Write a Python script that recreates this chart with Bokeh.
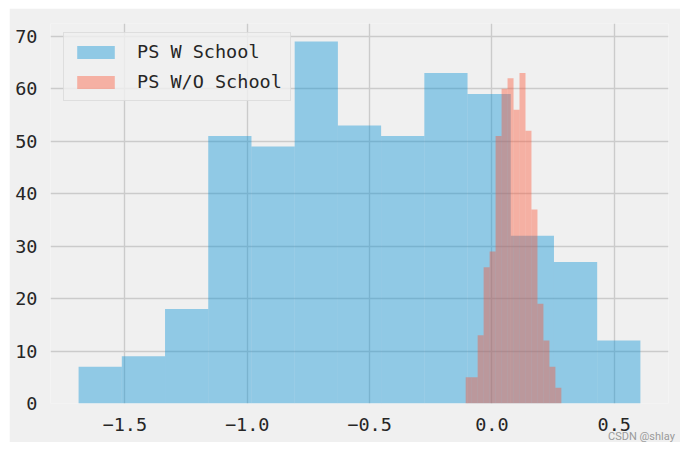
import numpy as np
from bokeh.plotting import figure
from bokeh.models import Range1d, CustomJSTickFormatter, Legend, LegendItem, Spacer, Div
from bokeh.layouts import column, row
from bokeh.embed import file_html
from bokeh.resources import INLINE

# ---- data ----
series_names = ["PS W School", "PS W/O School"]
ps_w_counts = [7, 9, 18, 51, 49, 69, 53, 51, 63, 59, 32, 27, 12]
ps_w_min, ps_w_max = -1.689, 0.607
ps_wo_counts = [5, 5, 13, 26, 29, 51, 60, 62, 56, 63, 52, 37, 19, 12, 7, 3]
ps_wo_min, ps_wo_max = -0.107, 0.284
x_ticks = [-1.5, -1.0, -0.5, 0.0, 0.5]
y_ticks = [0, 10, 20, 30, 40, 50, 60, 70]
watermark = "CSDN @shlay"

w_edges = np.linspace(ps_w_min, ps_w_max, len(ps_w_counts) + 1)
wo_edges = np.linspace(ps_wo_min, ps_wo_max, len(ps_wo_counts) + 1)

span = ps_w_max - ps_w_min
x0, x1 = ps_w_min - 0.05 * span, ps_w_max + 0.05 * span
ytop = max(max(ps_w_counts), max(ps_wo_counts)) * 1.05

BG = "#f0f0f0"
FONT = "DejaVu Sans Mono"

p = figure(width=671, height=434, output_backend="svg", toolbar_location=None,
           x_range=Range1d(x0, x1), y_range=Range1d(0, ytop),
           background_fill_color=BG, border_fill_color=BG, outline_line_color=None,
           min_border_left=41, min_border_right=12, min_border_top=15, min_border_bottom=39)

r1 = p.quad(left=w_edges[:-1], right=w_edges[1:], top=ps_w_counts, bottom=0,
            fill_color="#008fd5", fill_alpha=0.4, line_color=None)
r2 = p.quad(left=wo_edges[:-1], right=wo_edges[1:], top=ps_wo_counts, bottom=0,
            fill_color="#fc4f30", fill_alpha=0.4, line_color=None)

p.xaxis.ticker = x_ticks
p.yaxis.ticker = y_ticks
p.xaxis.formatter = CustomJSTickFormatter(
    code="return (tick < 0 ? '\u2212' : '') + Math.abs(tick).toFixed(1);")

for ax in (p.xaxis[0], p.yaxis[0]):
    ax.axis_line_color = None
    ax.major_tick_line_color = None
    ax.minor_tick_line_color = None
    ax.major_label_text_font = FONT
    ax.major_label_text_font_size = "18.5px"
    ax.major_label_text_color = "#262626"
p.xaxis.major_label_standoff = 8
p.yaxis.major_label_standoff = 7

for g in (p.xgrid[0], p.ygrid[0]):
    g.grid_line_color = "#cbcbcb"
    g.grid_line_width = 1.4

legend = Legend(items=[LegendItem(label=series_names[0], renderers=[r1]),
                       LegendItem(label=series_names[1], renderers=[r2])],
                location=(13, 302))
legend.glyph_width = 47
legend.glyph_height = 16
legend.label_standoff = 18
legend.padding = 8
legend.spacing = 9
legend.margin = 0
legend.label_text_font = FONT
legend.label_text_font_size = "18.5px"
legend.label_text_color = "#262626"
legend.background_fill_color = BG
legend.background_fill_alpha = 0.8
legend.border_line_color = "#cccccc"
legend.border_line_width = 1
p.add_layout(legend)

wm = Div(text=watermark, width=75, height=12, margin=(-11, 0, 0, 608),
         styles={"font-family": "Roboto", "font-size": "11px", "color": "#9a9a9a",
                 "line-height": "12px", "white-space": "nowrap"})

layout = column(Spacer(height=8), row(Spacer(width=9), p), wm, spacing=0)
open("out.html", "w").write(file_html(layout, INLINE))
